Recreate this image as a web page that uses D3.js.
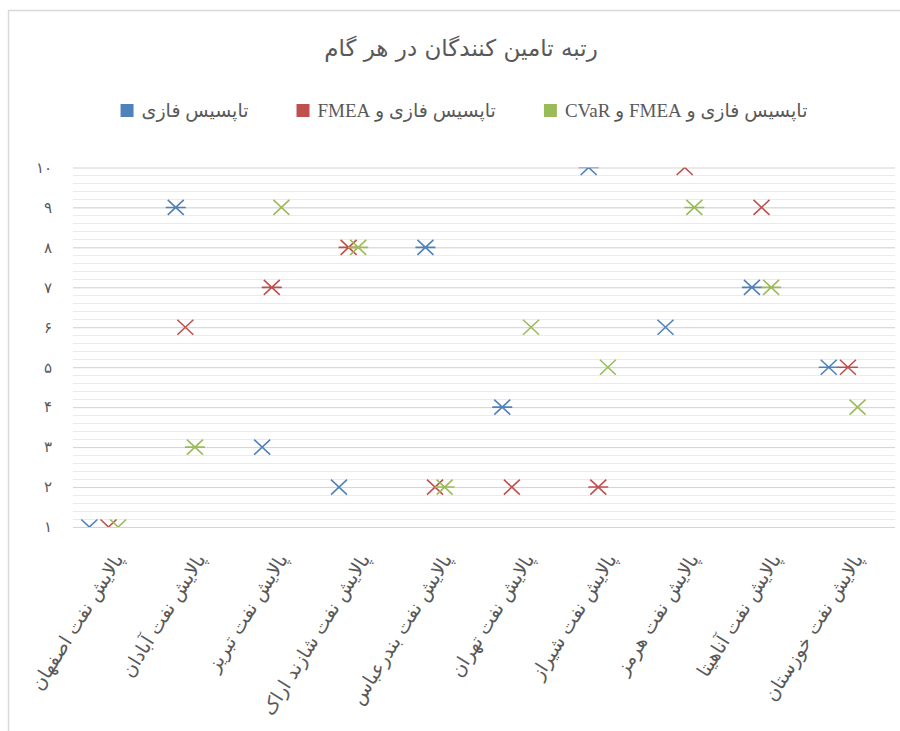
<!DOCTYPE html>
<html>
<head>
<meta charset="utf-8">
<script src="https://cdn.jsdelivr.net/npm/d3@7"></script>
<style>
  body { margin: 0; background: #fff; }
  text { fill: #595959; font-family: "DejaVu Sans", sans-serif; }
  .legend text { font-family: "Liberation Serif", "DejaVu Sans", serif; }
</style>
</head>
<body>
<div id="chart"></div>
<script>
// refineries along the category axis
var categories = [
  "پالایش نفت اصفهان", "پالایش نفت آبادان", "پالایش نفت تبریز",
  "پالایش نفت شازند اراک", "پالایش نفت بندرعباس", "پالایش نفت تهران",
  "پالایش نفت شیراز", "پالایش نفت هرمز", "پالایش نفت آناهیتا",
  "پالایش نفت خوزستان"
];
var seriesNames = ["تاپسیس فازی", "تاپسیس فازی و FMEA", "تاپسیس فازی و FMEA و CVaR"];

// rank values per series
var rankTopsis = [1, 9, 3, 2, 8, 4, 10, 6, 7, 5];
var rankFmea   = [1, 6, 7, 8, 2, 2, 2, 10, 9, 5];
var rankCvar   = [1, 3, 9, 8, 2, 6, 5, 9, 7, 4];

// x values of the scatter points
var xTopsis = [0, 9, 18, 26, 35, 43, 52, 60, 69, 77];
var xFmea   = [2, 10, 19, 27, 36, 44, 53, 62, 70, 79];
var xCvar   = [3, 11, 20, 28, 37, 46, 54, 63, 71, 80];

// which points are drawn with the star marker (x + bar)
var starTopsis = [false, true, false, false, true, true, true, false, true, true];
var starFmea   = [false, false, true, true, false, false, true, false, false, true];
var starCvar   = [false, true, false, true, true, false, false, true, true, false];

var yTicks = [1, 2, 3, 4, 5, 6, 7, 8, 9, 10];
var yTickLabels = ["۱", "۲", "۳", "۴", "۵", "۶", "۷", "۸", "۹", "۱۰"];

var colors = ["#4F81BD", "#C0504D", "#9BBB59"];

var width = 900, height = 731;
var plot = {left: 73, right: 895, top: 167.5, bottom: 527};

var svg = d3.select("#chart").append("svg")
    .attr("width", width)
    .attr("height", height);

// chart frame
svg.append("rect")
    .attr("x", 8.5).attr("y", 10.5)
    .attr("width", 920).attr("height", 760)
    .attr("fill", "#fff")
    .attr("stroke", "#d9d9d9")
    .attr("stroke-width", 1.5);

var x = d3.scaleLinear().domain([-1.7, 83.9]).range([plot.left, plot.right]);
var xBand = d3.scaleBand().domain(categories).range([plot.left, plot.right]);
var y = d3.scaleLinear().domain([1, 10]).range([plot.bottom, plot.top]);

// minor gridlines
svg.append("g")
    .selectAll("line")
    .data(d3.range(1, 10, 0.2))
    .enter().append("line")
    .attr("x1", plot.left).attr("x2", plot.right)
    .attr("y1", function(d) { return Math.round(y(d)) + 0.5; })
    .attr("y2", function(d) { return Math.round(y(d)) + 0.5; })
    .attr("stroke", "#ebebeb");

// major gridlines + y labels
var yAxis = svg.append("g")
    .attr("transform", "translate(" + plot.left + ",0)")
    .call(d3.axisLeft(y)
        .tickValues(yTicks)
        .tickSize(-(plot.right - plot.left))
        .tickPadding(21)
        .tickFormat(function(d) { return yTickLabels[yTicks.indexOf(d)]; }));
yAxis.select(".domain").remove();
yAxis.selectAll("line").attr("stroke", "#d4d4d4");
yAxis.selectAll("text")
    .style("font-size", "15px")
    .style("font-family", "DejaVu Sans")
    .attr("fill", "#595959");

// category labels
svg.append("g")
    .selectAll("text")
    .data(categories)
    .enter().append("text")
    .attr("transform", function(d) {
        return "translate(" + (xBand(d) + xBand.bandwidth() / 2 + 10) + ",559) rotate(-58)";
    })
    .attr("text-anchor", "end")
    .style("font-size", "19px")
    .text(function(d) { return d; });

// markers
svg.append("clipPath").attr("id", "plotclip")
  .append("rect")
    .attr("x", plot.left).attr("y", plot.top)
    .attr("width", plot.right - plot.left)
    .attr("height", plot.bottom - plot.top);

var series = [
    {xs: xTopsis, ys: rankTopsis, star: starTopsis},
    {xs: xFmea, ys: rankFmea, star: starFmea},
    {xs: xCvar, ys: rankCvar, star: starCvar}
];

var marks = svg.append("g").attr("clip-path", "url(#plotclip)");
series.forEach(function(s, si) {
    var pts = s.ys.map(function(v, i) { return {x: s.xs[i], y: v, star: s.star[i]}; });
    marks.append("g").selectAll("path")
        .data(pts)
        .enter().append("path")
        .attr("transform", function(d) { return "translate(" + x(d.x) + "," + y(d.y) + ")"; })
        .attr("d", function(d) {
            var p = "M-8,-7.5L8,7.5M-8,7.5L8,-7.5";
            if (d.star) p += "M-10,0H10";
            return p;
        })
        .attr("fill", "none")
        .attr("stroke", colors[si])
        .attr("stroke-width", 1.6);
});

// title
svg.append("text")
    .attr("x", 461).attr("y", 56)
    .attr("text-anchor", "middle")
    .style("font-size", "23px")
    .text("رتبه تامین کنندگان در هر گام");

// legend, series order left to right, key left of its text
var legend = svg.append("g").attr("class", "legend");
var items = legend.selectAll("g")
    .data(seriesNames)
    .enter().append("g");
items.append("rect")
    .attr("width", 13).attr("height", 13)
    .attr("y", 104)
    .attr("fill", function(d, i) { return colors[i]; });
items.append("text")
    .attr("y", 117)
    .attr("direction", "rtl")
    .attr("text-anchor", "start")
    .style("font-size", "19px")
    .text(function(d) { return d; });

var widths = [];
items.selectAll("text").each(function() { widths.push(this.getComputedTextLength()); });
var gap = 48;
var total = d3.sum(widths) + items.size() * 21 + (items.size() - 1) * gap;
var cursor = 464 - total / 2;
items.each(function(d, i) {
    var g = d3.select(this);
    g.select("rect").attr("x", cursor);
    g.select("text").attr("x", cursor + 21 + widths[i]);
    cursor += 21 + widths[i] + gap;
});
</script>
</body>
</html>
